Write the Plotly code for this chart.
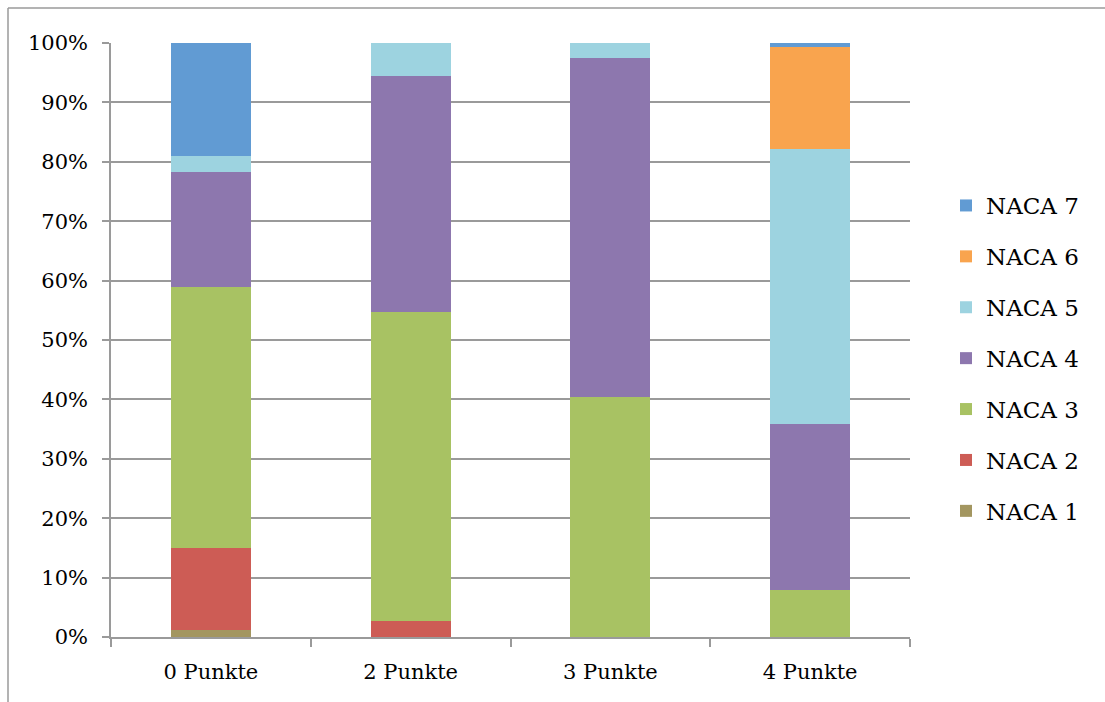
import plotly.graph_objects as go

categories = ["0 Punkte", "2 Punkte", "3 Punkte", "4 Punkte"]

# share per category (percent), one list per NACA class
naca_1 = [1.2, 0.0, 0.0, 0.0]
naca_2 = [13.8, 2.7, 0.0, 0.0]
naca_3 = [43.9, 52.0, 40.4, 7.9]
naca_4 = [19.4, 39.7, 57.1, 27.9]
naca_5 = [2.7, 5.6, 2.5, 46.4]
naca_6 = [0.0, 0.0, 0.0, 17.2]
naca_7 = [19.0, 0.0, 0.0, 0.6]

series = [
    ("NACA 1", naca_1, "#A39660"),
    ("NACA 2", naca_2, "#CD5C55"),
    ("NACA 3", naca_3, "#A8C263"),
    ("NACA 4", naca_4, "#8D77AE"),
    ("NACA 5", naca_5, "#9DD3E0"),
    ("NACA 6", naca_6, "#F9A44E"),
    ("NACA 7", naca_7, "#619BD3"),
]

W, H = 1105, 702
L, R, T, B = 111, 910, 43, 637  # plot area in pixels

serif = "DejaVu Serif"

fig = go.Figure()
for i, (name, vals, color) in enumerate(series):
    fig.add_trace(go.Bar(
        x=categories,
        y=[v / 100 for v in vals],
        name=name,
        legendgroup=name,
        legendrank=len(series) - i,
        marker=dict(color=color, line=dict(width=0)),
    ))

grey = "#9a9a9a"

def px_x(p):
    return (p - L) / (R - L)

def px_y(p):
    return (B - p) / (B - T)

fig.update_layout(
    width=W, height=H,
    barmode="stack",
    bargap=0.6,
    plot_bgcolor="white",
    paper_bgcolor="white",
    margin=dict(l=L, r=W - R, t=T, b=H - B),
    font=dict(family=serif, size=21, color="black"),
    legend=dict(
        x=px_x(946), xanchor="left",
        y=px_y(184), yanchor="top",
        traceorder="grouped",
        tracegroupgap=18,
        font=dict(family=serif, size=23, color="black"),
        bgcolor="rgba(0,0,0,0)",
    ),
    shapes=[
        # outer chart frame (top and left edges visible)
        dict(type="line", xref="paper", yref="paper",
             x0=px_x(8), x1=px_x(1200), y0=px_y(8), y1=px_y(8),
             line=dict(color=grey, width=1.5)),
        dict(type="line", xref="paper", yref="paper",
             x0=px_x(8), x1=px_x(8), y0=px_y(8), y1=px_y(800),
             line=dict(color=grey, width=1.5)),
    ],
)

fig.update_yaxes(
    range=[0, 1],
    tickvals=[i / 10 for i in range(11)],
    tickformat=".0%",
    showgrid=True, gridcolor=grey, gridwidth=1.5,
    showline=True, linecolor=grey, linewidth=1.5,
    ticks="outside", ticklen=7, tickcolor=grey, tickwidth=1.5,
    ticklabelstandoff=10,
    zeroline=False,
    tickfont=dict(family=serif, size=21, color="black"),
)
fig.update_xaxes(
    showline=True, linecolor=grey, linewidth=1.5,
    ticks="outside", ticklen=8, tickcolor=grey, tickwidth=1.5,
    tickson="boundaries",
    ticklabelstandoff=15,
    showgrid=False,
    tickfont=dict(family=serif, size=21, color="black"),
)

fig.write_html("out.html")
